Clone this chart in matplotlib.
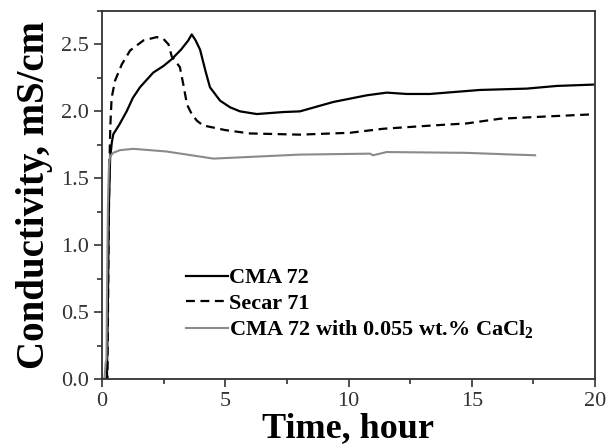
import matplotlib
matplotlib.use("Agg")
from matplotlib import pyplot as plt
from matplotlib.ticker import MultipleLocator

# CMA 72
cma_t = [0.0, 0.2, 0.24, 0.28, 0.33, 0.4, 0.46, 0.7, 1.0, 1.25, 1.54, 2.08, 2.5, 2.83, 3.2, 3.5, 3.64,
         3.8, 3.98, 4.2, 4.38, 4.79, 5.2, 5.6, 6.28, 7.36, 8.03, 9.38, 10.74, 11.55, 12.36, 13.3,
         15.33, 17.23, 18.45, 19.93]
cma_y = [0.0, 0.0, 0.6, 1.3, 1.65, 1.77, 1.83, 1.9, 2.0, 2.1, 2.18, 2.29, 2.34, 2.39, 2.46, 2.53, 2.575,
         2.53, 2.46, 2.3, 2.18, 2.08, 2.03, 2.0, 1.98, 1.995, 2.0, 2.07, 2.12, 2.14, 2.13, 2.13,
         2.16, 2.17, 2.19, 2.2]

# Secar 71
secar_t = [0.0, 0.22, 0.26, 0.3, 0.34, 0.39, 0.53, 0.8, 1.14, 1.68, 2.22, 2.5, 2.7, 2.83, 3.0, 3.16,
           3.3, 3.45, 3.64, 3.85, 4.1, 5.0, 6.0, 8.03, 10.06, 11.41, 13.44, 14.8, 16.15, 18.17, 19.93]
secar_y = [0.0, 0.0, 0.9, 1.6, 1.9, 2.1, 2.23, 2.35, 2.455, 2.53, 2.555, 2.54, 2.5, 2.41, 2.37, 2.33,
           2.2, 2.05, 1.98, 1.93, 1.895, 1.86, 1.835, 1.826, 1.84, 1.87, 1.895, 1.91, 1.945, 1.963, 1.978]

# CMA 72 with CaCl2
cacl_t = [0.0, 0.1, 0.15, 0.18, 0.2, 0.24, 0.28, 0.32, 0.45, 0.73, 1.27, 2.62, 4.52, 8.03, 10.87, 11.0,
          11.55, 14.8, 16.69, 17.57]
cacl_y = [0.0, 0.0, 0.12, 0.15, 0.6, 1.3, 1.58, 1.66, 1.69, 1.71, 1.72, 1.70, 1.647, 1.677, 1.684, 1.672,
          1.696, 1.69, 1.677, 1.672]

labels = ["CMA 72", "Secar 71", "CMA 72 with 0.055 wt.% CaCl$_\\mathbf{2}$"]

plt.rcParams['font.family'] = ['Liberation Serif', 'DejaVu Serif']
plt.rcParams['mathtext.fontset'] = 'custom'
plt.rcParams['mathtext.rm'] = 'Liberation Serif'
plt.rcParams['mathtext.bf'] = 'Liberation Serif:bold'

fig = plt.figure(figsize=(6.06, 4.47), dpi=100)
ax = fig.add_axes([102 / 606, 1 - 379 / 447, 493 / 606, 368 / 447])

ax.plot(cma_t, cma_y, color='black', lw=1.6, label=labels[0])
ax.plot(secar_t, secar_y, color='black', lw=1.6, ls=(0, (4, 2.5)), label=labels[1])
ax.plot(cacl_t, cacl_y, color='#8a8a8a', lw=1.5, label=labels[2])

ax.set_xlim(0, 20)
ax.set_ylim(0, 2.75)
ax.xaxis.set_major_locator(MultipleLocator(5))
ax.xaxis.set_minor_locator(MultipleLocator(2.5))
ax.yaxis.set_minor_locator(MultipleLocator(0.25))
ax.set_yticks([0, 0.5, 1.0, 1.5, 2.0, 2.5])
ax.yaxis.set_major_formatter(plt.FormatStrFormatter('%.1f'))
ax.tick_params(which='major', direction='out', length=6, width=1.2, labelsize=16, colors='#333333',
               top=False, right=False)
ax.tick_params(which='minor', direction='out', length=3.5, width=1.2, top=False, right=False,
               colors='#333333')
ax.tick_params(axis='x', pad=3)
for s in ax.spines.values():
    s.set_color('#333333')
    s.set_linewidth(1.3)

ax.set_xlabel('Time, hour', fontsize=26, fontweight='bold', labelpad=1)
ax.set_ylabel('Conductivity, mS/cm', fontsize=28, fontweight='bold', labelpad=6)

leg = ax.legend(loc='lower left', bbox_to_anchor=(0.152, 0.078), frameon=False,
                prop={'weight': 'bold', 'size': 16}, handlelength=1.9, handletextpad=0.05,
                labelspacing=0.22, borderaxespad=0)

fig.savefig('out.png', dpi=100)
